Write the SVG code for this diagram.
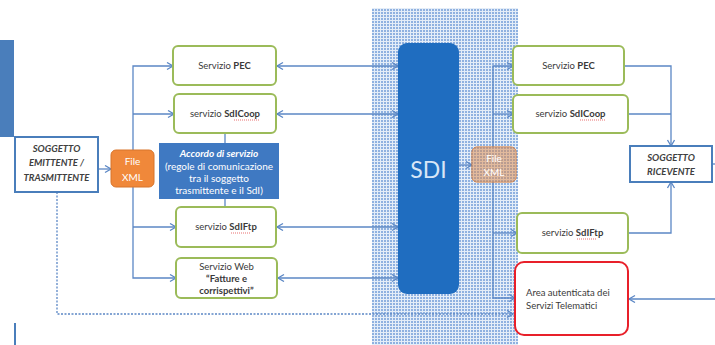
<svg xmlns="http://www.w3.org/2000/svg" width="715" height="345" viewBox="0 0 715 345">
<style>
.g{fill:#fff;stroke:#9bbb59;stroke-width:2}
.b{fill:#fff;stroke:#4a7ebb;stroke-width:2}
.t{font-family:Lato,"Open Sans",sans-serif;font-size:9.5px;fill:#3a3a3a;text-anchor:middle}
.bo{font-weight:bold}
.s{font-family:Lato,"Open Sans",sans-serif;font-size:9.5px;font-weight:bold;font-style:italic;fill:#404040;text-anchor:middle}
.w{font-family:Lato,"Open Sans",sans-serif;font-size:10px;fill:#fff;text-anchor:middle}
.c{fill:none;stroke:#5b87c5;stroke-width:1.3}
.ul{fill:none;stroke:#e03030;stroke-width:0.7;stroke-dasharray:1 1}
</style>
<defs>
<marker id="a" markerUnits="userSpaceOnUse" markerWidth="10" markerHeight="10" refX="7" refY="4" orient="auto-start-reverse">
<path d="M1,0.5 L7,4 L1,7.5" fill="none" stroke="#5b87c5" stroke-width="1.3"/>
</marker>
<pattern id="h" width="3" height="3" patternUnits="userSpaceOnUse">
<rect width="3" height="3" fill="#e4edf8"/>
<rect width="2" height="2" fill="#8fb1e0"/>
</pattern>
</defs>
<rect width="715" height="345" fill="#fff"/>
<rect x="372" y="8" width="146" height="337" fill="url(#h)"/>
<rect x="0" y="40" width="14" height="97" fill="#4a7ebb"/>
<rect x="14" y="323" width="2" height="22" fill="#4a7ebb"/>

<g id="connectors">
<path class="c" d="M133,150 V66 H173" marker-end="url(#a)"/>
<path class="c" d="M133,114 H174" marker-end="url(#a)"/>
<path class="c" d="M133,187 V278 H176" marker-end="url(#a)"/>
<path class="c" d="M133,227 H176" marker-end="url(#a)"/>
<path class="c" d="M98,169 H111" marker-end="url(#a)"/>
<path class="c" d="M277,66 H398" marker-start="url(#a)" marker-end="url(#a)"/>
<path class="c" d="M277,114 H398" marker-start="url(#a)" marker-end="url(#a)"/>
<path class="c" d="M277,227 H398" marker-start="url(#a)" marker-end="url(#a)"/>
<path class="c" d="M278,278 H398" marker-start="url(#a)" marker-end="url(#a)"/>
<path class="c" d="M225,133 V143 M225,199 V207"/>
<path class="c" d="M57,192 V314 H513" stroke-dasharray="2 1.5" marker-end="url(#a)"/>
<path class="c" d="M459,165 H472" marker-end="url(#a)"/>
<path class="c" d="M493,147 V66 H513" marker-end="url(#a)"/>
<path class="c" d="M493,114 H513" marker-end="url(#a)"/>
<path class="c" d="M493,182 V298 H515" marker-end="url(#a)"/>
<path class="c" d="M493,233 H517" marker-end="url(#a)"/>
<path class="c" d="M624,66 H671 V146" marker-end="url(#a)"/>
<path class="c" d="M628,114 H671"/>
<path class="c" d="M628,233 H671 V182" marker-end="url(#a)"/>
<path class="c" d="M712,164 H715"/>
<path class="c" d="M715,299 H629" marker-end="url(#a)"/>
</g>

<g id="emittente">
<rect class="b" x="15" y="137" width="83" height="55"/>
<text class="s" x="56.5" y="152" font-size="10">SOGGETTO</text>
<text class="s" x="56.5" y="166" font-size="10">EMITTENTE /</text>
<text class="s" x="56.5" y="181" font-size="10">TRASMITTENTE</text>
</g>

<g id="filexml-left">
<rect x="111" y="150" width="43" height="37" rx="5" fill="#f0883a" stroke="#d8742a" stroke-width="1"/>
<text class="w" x="132.5" y="165" font-size="11">File</text>
<text class="w" x="132.5" y="181" font-size="11">XML</text>
</g>

<g id="pec-left">
<rect class="g" x="173" y="46" width="103" height="39" rx="5"/>
<text class="t" x="224.5" y="69">Servizio <tspan class="bo">PEC</tspan></text>
</g>

<g id="sdicoop-left">
<rect class="g" x="174" y="94" width="102" height="39" rx="5"/>
<text class="t" x="225" y="117">servizio <tspan class="bo">SdICoop</tspan></text>
<path class="ul" d="M234,120 H259"/>
</g>

<g id="accordo">
<rect x="159" y="143" width="120" height="56" fill="#3f79c2"/>
<text class="w" x="219" y="157" font-weight="bold" font-style="italic">Accordo di servizio</text>
<text class="w" x="219" y="170">(regole di comunicazione</text>
<text class="w" x="219" y="182">tra il soggetto</text>
<text class="w" x="219" y="194">trasmittente e il SdI)</text>
</g>

<g id="sdiftp-left">
<rect class="g" x="176" y="207" width="100" height="40" rx="5"/>
<text class="t" x="226" y="230">servizio <tspan class="bo">SdIFtp</tspan></text>
<path class="ul" d="M231,233 H250"/>
</g>

<g id="web">
<rect class="g" x="176" y="258" width="101" height="40" rx="5"/>
<text class="t" x="226.5" y="270">Servizio Web</text>
<text class="t bo" x="226.5" y="282">“Fatture e</text>
<text class="t bo" x="226.5" y="294">corrispettivi”</text>
</g>

<g id="sdi">
<rect x="398" y="43" width="61" height="251" rx="9" fill="#1f6dc0"/>
<text x="428.5" y="178" font-family="Lato,'Open Sans',sans-serif" font-size="23" fill="#d8e6f7" text-anchor="middle">SDI</text>
</g>

<g id="filexml-right">
<rect x="472" y="147" width="44" height="35" rx="5" fill="#e08a48" fill-opacity="0.8" stroke="#d8742a" stroke-width="1"/>
<rect x="472" y="147" width="44" height="35" rx="5" fill="url(#h)" fill-opacity="0.35"/>
<text class="w" x="494" y="162" fill="#f3d3b5">File</text>
<text class="w" x="494" y="176" fill="#f3d3b5">XML</text>
</g>

<g id="pec-right">
<rect class="g" x="513" y="46" width="111" height="39" rx="5"/>
<text class="t" x="568.5" y="69">Servizio <tspan class="bo">PEC</tspan></text>
</g>

<g id="sdicoop-right">
<rect class="g" x="513" y="95" width="115" height="38" rx="5"/>
<text class="t" x="570.5" y="117">servizio <tspan class="bo">SdICoop</tspan></text>
<path class="ul" d="M580,120 H605"/>
</g>

<g id="sdiftp-right">
<rect class="g" x="517" y="213" width="111" height="40" rx="5"/>
<text class="t" x="572.5" y="236">servizio <tspan class="bo">SdIFtp</tspan></text>
<path class="ul" d="M577,239 H596"/>
</g>

<g id="area">
<rect x="515" y="262" width="113" height="73" rx="9" fill="#fff" stroke="#e8202a" stroke-width="2"/>
<text class="t" x="526" y="296" style="text-anchor:start" font-size="9">Area  autenticata dei</text>
<text class="t" x="526" y="309" style="text-anchor:start" font-size="9">Servizi Telematici</text>
</g>

<g id="ricevente">
<rect class="b" x="630" y="146" width="82" height="36"/>
<text class="s" x="671" y="161">SOGGETTO</text>
<text class="s" x="671" y="175">RICEVENTE</text>
</g>
</svg>
